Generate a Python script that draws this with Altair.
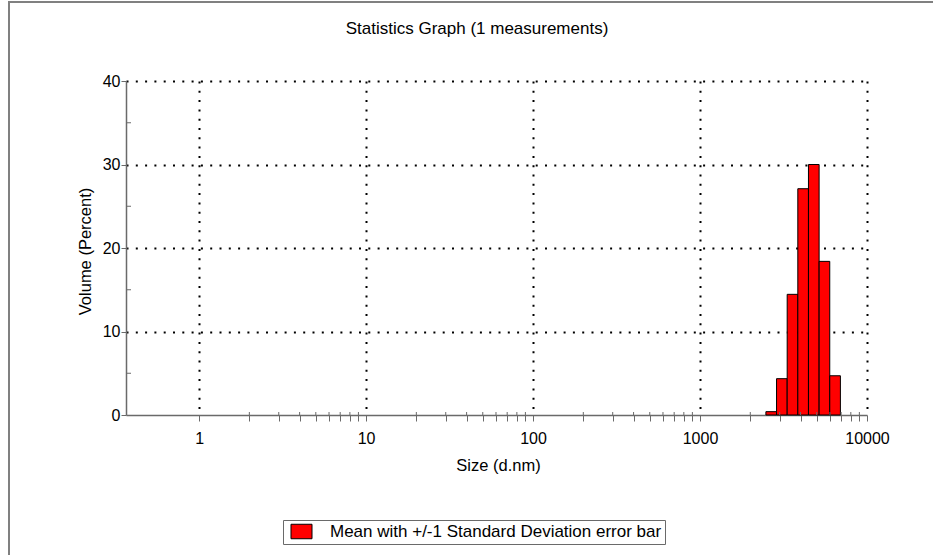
import math

import altair as alt
import pandas as pd

# Size classes (d.nm) that hold volume, with their volume percentages
size_centers = [2669, 3091, 3580, 4145, 4801, 5560, 6439]
volume_pct = [0.4, 4.35, 14.45, 27.1, 30.0, 18.4, 4.7]
# neighbouring (empty) size classes, used for the outer bin edges
class_below = 2305
class_above = 7456

series_name = "Mean with +/-1 Standard Deviation error bar"

y_major = [0, 10, 20, 30, 40]
y_minor = [5, 15, 25, 35]
x_decades = [1, 10, 100, 1000, 10000]
x_minor = [m * d for d in [1, 10, 100, 1000] for m in range(2, 10)]

FONT = "Liberation Sans"
AXIS_GREY = "#6a6a6a"
W, H = 741, 334

# bin edges lie halfway (in log space) between neighbouring class centres
all_centers = [class_below] + size_centers + [class_above]
lo = [math.sqrt(all_centers[i] * all_centers[i + 1]) for i in range(len(size_centers))]
hi = [math.sqrt(all_centers[i + 1] * all_centers[i + 2]) for i in range(len(size_centers))]

bins = pd.DataFrame({"size": lo, "size_hi": hi, "vol": volume_pct, "base": 0.0,
                     "series": series_name})
minor_x = pd.DataFrame({"size": x_minor})
minor_y = pd.DataFrame({"vol": y_minor})

x_scale = alt.Scale(type="log", domain=[0.365, 10000], nice=False)
y_scale = alt.Scale(domain=[0, 40], nice=False)

decade_test = "indexof([1, 10, 100, 1000, 10000], datum.value) < 0"

x_axis = alt.Axis(
    title="Size (d.nm)",
    values=sorted(x_decades + x_minor),
    labelExpr="indexof([1, 10, 100, 1000, 10000], datum.value) >= 0 ? format(datum.value, 'd') : ''",
    labelOverlap=False,
    labelFlush=False,
    labelBound=False,
    labelFontSize=16,
    labelColor="black",
    labelPadding=9,
    tickSize=6,
    tickColor=AXIS_GREY,
    domainColor=AXIS_GREY,
    domainWidth=1.5,
    grid=True,
    gridColor="black",
    gridWidth=2,
    gridDash=[2, 7.3],
    gridOpacity={"condition": {"test": decade_test, "value": 0}, "value": 1},
    titleFontSize=16.5,
    titleFontWeight="normal",
    titleColor="black",
    titleX=372,
    titleY=50,
    titleAlign="center",
    titleBaseline="middle",
)

y_axis = alt.Axis(
    title="Volume (Percent)",
    values=y_major,
    labelFontSize=16,
    labelColor="black",
    labelPadding=1,
    tickSize=5,
    tickColor=AXIS_GREY,
    domainColor=AXIS_GREY,
    domainWidth=1.5,
    grid=True,
    gridColor="black",
    gridWidth=2,
    gridDash=[2, 7.3],
    gridOpacity={"condition": {"test": "datum.value == 0", "value": 0}, "value": 1},
    titleFontSize=16.5,
    titleFontWeight="normal",
    titleColor="black",
    titleAngle=270,
    titleX=-41,
    titleY=170,
    titleAlign="center",
    titleBaseline="middle",
)

legend = alt.Legend(
    orient="none",
    legendX=157,
    legendY=439,
    title=None,
    padding=3,
    strokeColor=AXIS_GREY,
    fillColor="white",
    symbolType="M-1.45,-1H1.45V1H-1.45Z",
    symbolSize=210,
    symbolStrokeColor="black",
    symbolStrokeWidth=1,
    symbolOpacity=1,
    symbolOffset=7,
    labelOffset=20,
    labelFontSize=17,
    labelFont=FONT,
    labelColor="black",
    labelLimit=0,
)

bars = alt.Chart(bins).mark_rect(stroke="black", strokeWidth=1, opacity=1).encode(
    x=alt.X("size:Q", scale=x_scale, axis=x_axis),
    x2="size_hi:Q",
    y=alt.Y("vol:Q", scale=y_scale, axis=y_axis),
    y2="base:Q",
    color=alt.Color("series:N", scale=alt.Scale(range=["#ff0000"]), legend=legend),
)

# minor x ticks also poke a little above the axis line
x_minor_up = alt.Chart(minor_x).mark_rule(color=AXIS_GREY, strokeWidth=1).encode(
    x=alt.X("size:Q", scale=x_scale, axis=x_axis),
    y=alt.value(H - 3),
    y2=alt.value(H),
)

# minor y ticks point into the plot
y_minor_in = alt.Chart(minor_y).mark_rule(color=AXIS_GREY, strokeWidth=1).encode(
    y=alt.Y("vol:Q", scale=y_scale, axis=y_axis),
    x=alt.value(0),
    x2=alt.value(5),
)

# page frame: top and left edges
frame_src = pd.DataFrame({"k": [0]})
frame_top = alt.Chart(frame_src).mark_rule(color="#808080", strokeWidth=2).encode(
    x=alt.value(-118), x2=alt.value(807), y=alt.value(-79)
)
frame_left = alt.Chart(frame_src).mark_rule(color="#808080", strokeWidth=2).encode(
    x=alt.value(-117), y=alt.value(-79), y2=alt.value(474)
)

chart = (
    alt.layer(bars, x_minor_up, y_minor_in, frame_top, frame_left)
    .properties(
        width=W,
        height=H,
        title=alt.TitleParams(
            "Statistics Graph (1 measurements)",
            font=FONT,
            fontSize=17,
            fontWeight="normal",
            color="black",
            anchor="middle",
            dx=-19.5,
            dy=41,
        ),
        padding={"left": 126, "top": 81, "right": 66, "bottom": 140},
        autosize="none",
        background="white",
    )
    .configure(font=FONT)
    .configure_view(stroke=None)
)

chart.save("out.html", embed_options={"renderer": "svg", "actions": False})
